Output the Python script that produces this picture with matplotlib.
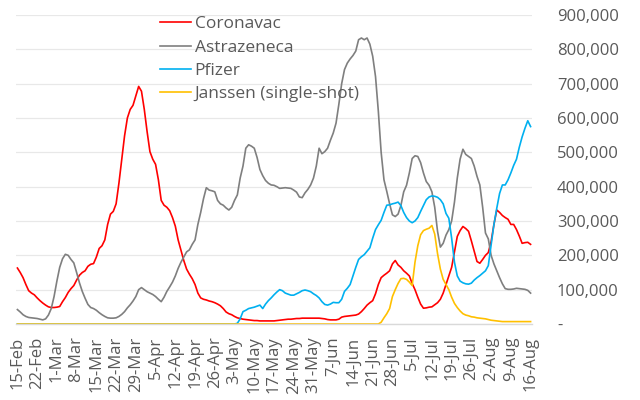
import pandas as pd
import matplotlib
matplotlib.use('Agg')
import matplotlib.pyplot as plt
from matplotlib.ticker import FuncFormatter

# Daily doses (thousands), 15-Feb to 16-Aug 2021
coronavac = [
    163, 150, 135, 115, 97, 90, 85, 76, 68, 61, 55, 50, 48, 48, 49, 51, 65, 77, 92, 103,
    112, 128, 142, 150, 155, 168, 174, 176, 195, 220, 228, 245, 290, 320, 328, 350, 410, 480, 548, 600,
    625, 637, 665, 692, 678, 625, 560, 502, 480, 465, 420, 360, 346, 340, 330, 310, 285, 245, 215, 185,
    160, 145, 132, 115, 90, 76, 72, 70, 67, 65, 62, 58, 53, 45, 35, 30, 27, 22, 18, 16,
    14, 13, 12, 11, 10, 10, 9, 9, 9, 9, 9, 9, 10, 11, 12, 13, 14, 14, 15, 16,
    16, 17, 17, 17, 17, 17, 17, 17, 16, 15, 13, 12, 12, 12, 14, 20, 22, 23, 24, 25,
    26, 29, 36, 45, 55, 62, 68, 88, 115, 135, 142, 148, 155, 175, 185, 172, 165, 155, 148, 140,
    118, 100, 78, 58, 46, 47, 49, 50, 56, 62, 72, 90, 115, 140, 165, 210, 255, 272, 284, 278,
    270, 242, 212, 182, 177, 188, 200, 208, 240, 290, 332, 325, 316, 310, 305, 290, 290, 275, 256, 235,
    237, 238, 232,
]
astrazeneca = [
    42, 35, 27, 22, 19, 18, 17, 16, 14, 12, 15, 26, 45, 80, 125, 165, 190, 203, 200, 188,
    178, 150, 120, 95, 75, 57, 48, 45, 40, 33, 27, 22, 18, 17, 17, 18, 22, 28, 36, 47,
    56, 67, 80, 100, 106, 100, 94, 90, 86, 80, 72, 65, 78, 95, 108, 122, 140, 162, 180, 195,
    210, 216, 232, 245, 290, 325, 365, 397, 390, 388, 385, 360, 350, 346, 338, 332, 340, 360, 376, 425,
    460, 512, 522, 518, 512, 485, 450, 432, 418, 410, 405, 404, 400, 395, 396, 397, 396, 395, 390, 384,
    370, 368, 382, 392, 405, 425, 460, 512, 496, 502, 512, 535, 556, 585, 640, 700, 741, 760, 772, 782,
    795, 828, 833, 828, 833, 815, 780, 721, 620, 500, 420, 386, 350, 318, 313, 320, 345, 385, 404, 440,
    482, 490, 488, 470, 440, 415, 404, 385, 340, 270, 224, 235, 259, 275, 300, 355, 425, 480, 509, 494,
    488, 482, 460, 430, 405, 340, 265, 248, 200, 175, 155, 135, 117, 103, 101, 101, 102, 104, 103, 102,
    101, 98, 90,
]
pfizer = [0] * 78 + [
    2, 15, 36, 40, 45, 47, 49, 52, 55, 45, 58, 68, 76, 85, 93, 100, 97, 90, 87, 84,
    84, 88, 92, 97, 99, 97, 94, 88, 83, 76, 65, 57, 55, 58, 63, 62, 62, 72, 95, 104,
    115, 140, 165, 188, 196, 202, 212, 222, 250, 275, 289, 302, 325, 346, 347, 350, 352, 355, 345, 325,
    310, 300, 295, 300, 310, 328, 345, 362, 370, 373, 372, 369, 362, 350, 322, 308, 250, 180, 140, 125,
    120, 117, 116, 119, 128, 135, 141, 148, 155, 170, 230, 290, 337, 380, 405, 405, 420, 440, 462, 480,
    515, 545, 570, 592, 575,
]
janssen = [0] * 129 + [
    5, 18, 30, 45, 80, 100, 118, 132, 133, 130, 122, 112, 180, 228, 260, 272, 276, 279, 287, 262,
    205, 160, 130, 115, 100, 78, 60, 48, 38, 30, 26, 24, 21, 20, 18, 17, 16, 15, 13, 11,
    10, 9, 8, 7, 7, 7, 7, 7, 7, 7, 7, 7, 7, 7,
]

dates = pd.date_range('2021-02-15', periods=len(coronavac), freq='D')
labels = [f'{d.day}-{d.strftime("%b")}' for d in dates]

series = [
    ('Coronavac', coronavac, '#FF0000'),
    ('Astrazeneca', astrazeneca, '#7F7F7F'),
    ('Pfizer', pfizer, '#00B0F0'),
    ('Janssen (single-shot)', janssen, '#FFC000'),
]

plt.rcParams['font.family'] = ['Open Sans', 'DejaVu Sans']
txt = '#595959'

fig = plt.figure(figsize=(6.4, 4), dpi=100)
ax = fig.add_axes([0.025, 0.19, 0.80625, 0.7725])

x = list(range(len(dates)))
for name, vals, col in series:
    ax.plot(x, [v * 1000 for v in vals], color=col, lw=1.2, label=name)

ax.set_xlim(-0.5, len(x) - 0.5)
ax.set_ylim(0, 900000)
ax.set_yticks(range(0, 900001, 100000))
ax.yaxis.set_major_formatter(FuncFormatter(lambda v, p: '-' if v == 0 else f'{v:,.0f}'))
ax.yaxis.tick_right()
ax.tick_params(axis='y', length=0, pad=18, labelsize=12, labelcolor=txt)
for t in ax.get_yticklabels():
    t.set_horizontalalignment('left')

ticks = x[::7]
ax.set_xticks(ticks)
ax.set_xticklabels([labels[i] for i in ticks], rotation=90, va='top', ha='center')
ax.tick_params(axis='x', length=0, pad=9, labelsize=12, labelcolor=txt)

ax.grid(axis='y', color='#E8E8E8', lw=0.9)
ax.set_axisbelow(True)
for s in ['top', 'left', 'right']:
    ax.spines[s].set_visible(False)
ax.spines['bottom'].set_color('#D9D9D9')
ax.spines['bottom'].set_linewidth(1.0)

leg = fig.legend(loc='upper left', bbox_to_anchor=(0.25, 0.96), frameon=False,
                 fontsize=12.5, handlelength=1.8, handletextpad=0.2,
                 labelspacing=0.42, borderpad=0, borderaxespad=0)
for t in leg.get_texts():
    t.set_color(txt)

fig.savefig('out.png', dpi=100)
